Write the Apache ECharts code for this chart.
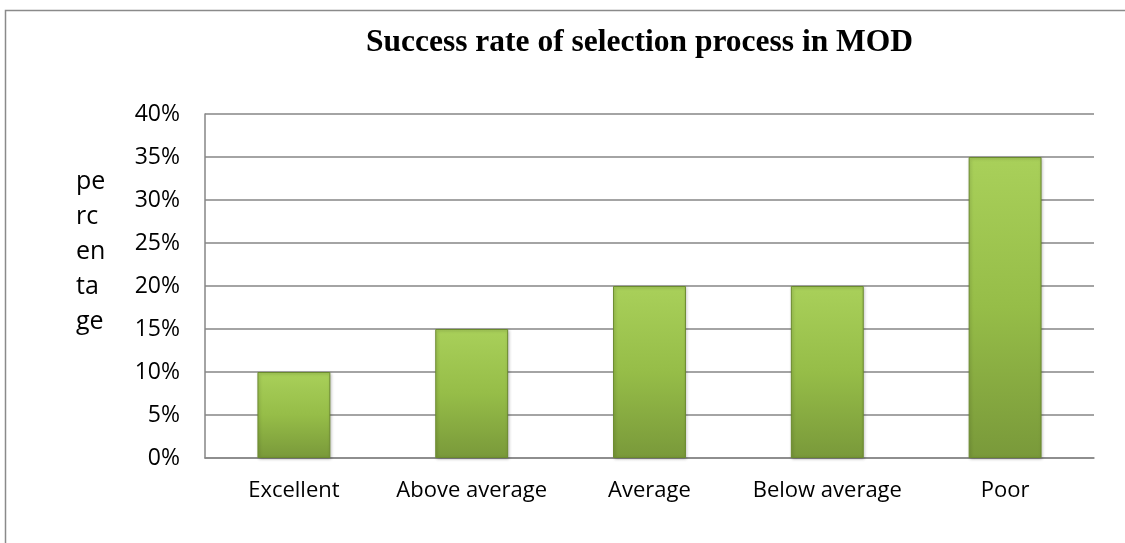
<!DOCTYPE html>
<html><head><meta charset="utf-8">
<script src="https://cdn.jsdelivr.net/npm/echarts@6/dist/echarts.min.js"></script>
<style>html,body{margin:0;padding:0;background:#fff}#c{width:1125px;height:543px}</style>
</head><body><div id="c"></div>
<script>
const categories = ['Excellent', 'Above average', 'Average', 'Below average', 'Poor'];
const values = [10, 15, 20, 20, 35];
const yTicks = [0, 5, 10, 15, 20, 25, 30, 35, 40];
const titleText = 'Success rate of selection process in MOD';
const yAxisTitle = 'pe\nrc\nen\nta\nge';

const chart = echarts.init(document.getElementById('c'));
chart.setOption({
  animation: false,
  backgroundColor: '#fff',
  title: {
    text: titleText, left: 361, top: 22,
    textStyle: {fontFamily: 'Liberation Serif', fontWeight: 'bold', fontSize: 31.5, color: '#000'}
  },
  graphic: [
    {type: 'rect', left: 3, top: 8, shape: {width: 1400, height: 700}, style: {fill: 'none', stroke: '#8a8a8a', lineWidth: 1.5}, silent: true},
    {type: 'text', left: 76, top: 164, style: {text: yAxisTitle, fontFamily: 'Open Sans', fontSize: 25, lineHeight: 35, fill: '#000'}}
  ],
  grid: {left: 205, right: 31, top: 114, bottom: 85},
  xAxis: {
    type: 'category', data: categories,
    axisLine: {lineStyle: {color: '#868686', width: 1.5}},
    axisTick: {show: false},
    axisLabel: {interval: 0, fontFamily: 'Open Sans', fontSize: 22, color: '#000', margin: 22}
  },
  yAxis: {
    type: 'value', min: 0, max: 40, interval: 5,
    axisLine: {show: true, lineStyle: {color: '#868686', width: 1.5}},
    axisTick: {show: false},
    splitLine: {lineStyle: {color: '#868686', width: 1.5}},
    axisLabel: {fontFamily: 'Open Sans', fontSize: 23, color: '#000', margin: 25, formatter: v => yTicks.includes(v) ? v + '%' : ''}
  },
  series: [{
    type: 'bar', data: values, barCategoryGap: '59%',
    itemStyle: {
      color: new echarts.graphic.LinearGradient(0, 0, 0, 1, [
        {offset: 0, color: '#a9d05a'},
        {offset: 0.5, color: '#96bd48'},
        {offset: 1, color: '#79993a'}
      ]),
      borderColor: '#6b8a2e', borderWidth: 1,
      shadowColor: 'rgba(0,0,0,0.25)', shadowBlur: 3, shadowOffsetX: 1, shadowOffsetY: 1
    }
  }]
});
</script></body></html>
